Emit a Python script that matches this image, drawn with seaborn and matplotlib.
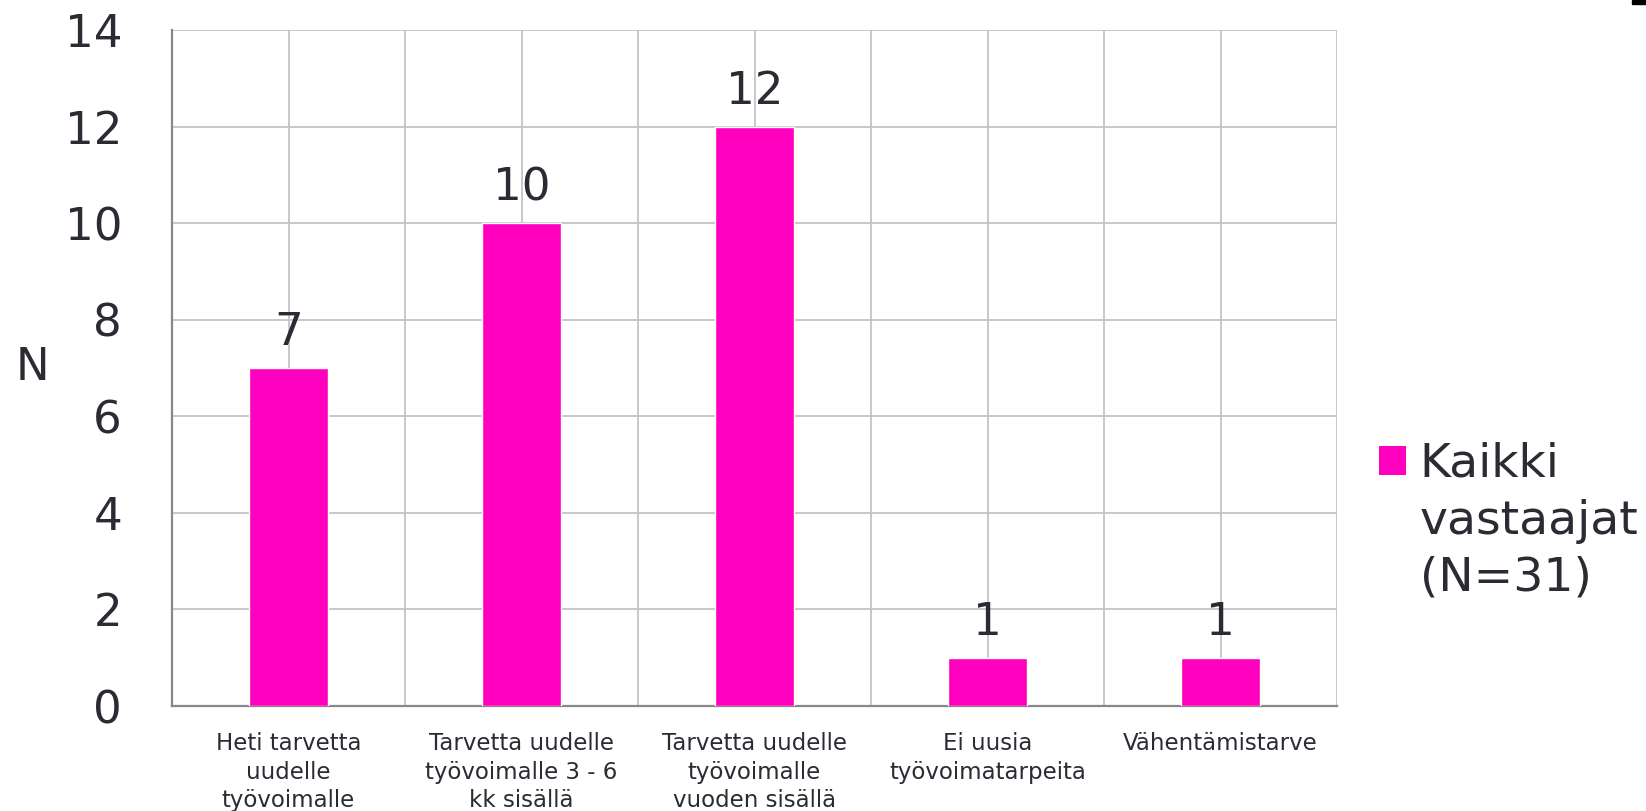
import numpy as np
import pandas as pd
import matplotlib
matplotlib.use('Agg')
import matplotlib.pyplot as plt
import seaborn as sns
from matplotlib.patches import Patch, Rectangle
from matplotlib.ticker import MultipleLocator, FixedLocator

categories = ["Heti tarvetta\nuudelle\ntyövoimalle",
              "Tarvetta uudelle\ntyövoimalle 3 - 6\nkk sisällä",
              "Tarvetta uudelle\ntyövoimalle\nvuoden sisällä",
              "Ei uusia\ntyövoimatarpeita",
              "Vähentämistarve"]
counts = [7, 10, 12, 1, 1]
series_name = "Kaikki\nvastaajat\n(N=31)"

df = pd.DataFrame({"kategoria": categories, "N": counts})

pink = "#FF00BE"
txt = "#2B2B33"
grid_c = "#C4C4C4"
spine_c = "#888888"

sns.set_style("white")
plt.rcParams['font.family'] = ['DejaVu Sans']

fig = plt.figure(figsize=(16.46, 8.11), dpi=100)
ax = fig.add_axes([172/1646, 1 - 706/811, 1165/1646, 676/811])

sns.barplot(data=df, x="kategoria", y="N", color=pink, width=0.335,
            saturation=1, ax=ax, zorder=3)

ax.set_xlim(-0.5, len(categories) - 0.5)
ax.set_ylim(0, 14)
ax.yaxis.set_major_locator(MultipleLocator(2))

# gridlines at centres and at category boundaries
ax.xaxis.set_minor_locator(FixedLocator(np.arange(-0.5, len(categories), 1.0)))
ax.grid(True, which='major', axis='both', color=grid_c, lw=1.3, zorder=0)
ax.grid(True, which='minor', axis='x', color=grid_c, lw=1.3, zorder=0)
ax.set_axisbelow(True)

for s in ['top', 'right']:
    ax.spines[s].set_visible(False)
for s in ['left', 'bottom']:
    ax.spines[s].set_color(spine_c)
    ax.spines[s].set_linewidth(1.6)

ax.tick_params(axis='y', length=12, width=1.3, color=spine_c, pad=24,
               labelsize=32.5, labelcolor=txt)
ax.tick_params(axis='x', which='major', length=0, pad=19,
               labelsize=16.5, labelcolor=txt)
ax.tick_params(axis='x', which='minor', length=6, width=1.3, color=spine_c)
for lab in ax.get_xticklabels():
    lab.set_linespacing(1.3)

ax.set_xlabel("")
ax.set_ylabel("N", rotation=0, fontsize=32.5, color=txt, ha='center', va='center')
ax.yaxis.set_label_coords(-0.12, 0.5)

ax.bar_label(ax.containers[0], labels=[str(v) for v in counts], padding=10,
             fontsize=32.5, color=txt)

leg = fig.legend(handles=[Patch(facecolor=pink, edgecolor='none', label=series_name)],
                 loc='upper left', bbox_to_anchor=(1379/1646, 1 - 442/811),
                 frameon=False, fontsize=34, handlelength=0.57, handleheight=0.57,
                 handletextpad=0.29, borderpad=0, borderaxespad=0, labelcolor=txt)
leg.get_texts()[0].set_linespacing(1.33)
h = leg.legend_handles[0]
h.set_y(h.get_y() + 44)

# small dark mark in the top right corner of the original
fig.patches.append(Rectangle((1632/1646, 1 - 4/811), 14/1646, 4/811,
                             transform=fig.transFigure, color='black'))

fig.savefig("out.png", dpi=100)
